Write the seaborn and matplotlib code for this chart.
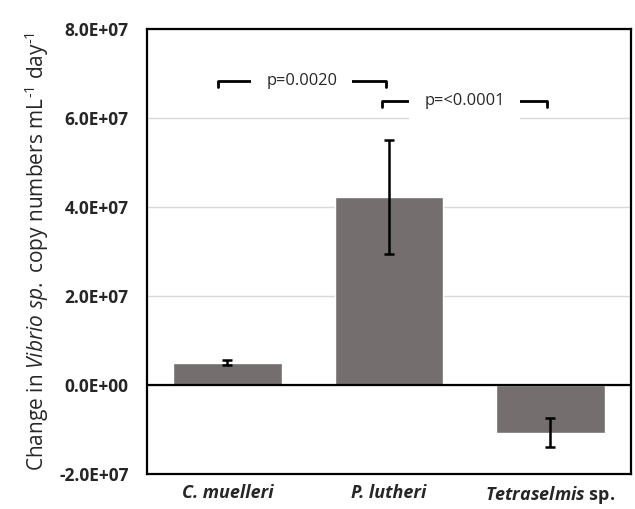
#!/usr/bin/env python3
# Change in Vibrio sp. copy numbers per microalgae culture

import matplotlib
matplotlib.use('Agg')
import matplotlib.pyplot as plt
import seaborn as sns

species = ['C. muelleri', 'P. lutheri', 'Tetraselmis sp.']
tick_labels = ['C. muelleri', 'P. lutheri', r'$\mathbfit{Tetraselmis}$ sp.']
change = [5.0e6, 4.22e7, -1.07e7]
change_err = [0.6e6, 1.28e7, 0.33e7]

# comparisons: (x start, x end, height, label)
comparisons = [(-0.06, 0.98, 6.84e7, 'p=0.0020'),
               (0.96, 1.98, 6.39e7, 'p=<0.0001')]

sns.set_theme(style='white')
plt.rcParams['font.family'] = ['Open Sans', 'DejaVu Sans']
plt.rcParams['mathtext.fontset'] = 'custom'
plt.rcParams['mathtext.rm'] = 'Open Sans'
plt.rcParams['mathtext.it'] = 'Open Sans:italic'
plt.rcParams['mathtext.bf'] = 'Open Sans:bold'
plt.rcParams['mathtext.bfit'] = 'Open Sans:italic:bold'

fig = plt.figure(figsize=(6.35, 5.09), dpi=100)
ax = fig.add_axes([0.231, 0.069, 0.763, 0.874])

sns.barplot(x=species, y=change, color='#746e6e', saturation=1,
            width=0.67, errorbar=None, ax=ax, zorder=2)
ax.errorbar(range(len(species)), change, yerr=change_err, fmt='none',
            ecolor='black', elinewidth=1.8, capsize=3.5, capthick=1.8, zorder=3)

ax.axhline(0, color='black', linewidth=1.6, zorder=4)
ax.set_ylim(-2e7, 8e7)
ax.set_xlim(-0.5, 2.5)
ax.set_yticks([-2e7, 0, 2e7, 4e7, 6e7, 8e7])
ax.set_yticklabels(['-2.0E+07', '0.0E+00', '2.0E+07', '4.0E+07',
                    '6.0E+07', '8.0E+07'], fontweight='bold', fontsize=12.5)
ax.set_xticks(range(len(species)))
ax.set_xticklabels(tick_labels, fontweight='bold', fontsize=13)
for lab in ax.get_xticklabels()[:2]:
    lab.set_fontstyle('italic')
ax.tick_params(axis='y', length=0, pad=13)
ax.tick_params(axis='x', length=0, pad=7)
ax.yaxis.grid(True, color='#d9d9d9', linewidth=1, zorder=0)
ax.set_axisbelow(True)
for s in ax.spines.values():
    s.set_color('black')
    s.set_linewidth(1.6)

ax.set_xlabel('')
ax.set_ylabel(r'Change in $\it{Vibrio\ sp.}$ copy numbers mL$^{\text{-1}}$ day$^{\text{-1}}$',
              fontsize=15, labelpad=6)

for x0, x1, h, label in comparisons:
    drop = 0.14e7
    ax.plot([x0, x0, x1, x1], [h - drop, h, h, h - drop], color='black',
            linewidth=2, zorder=5)
    ax.text((x0 + x1) / 2, h, label, ha='center', va='center', fontsize=11.8,
            zorder=6, bbox=dict(facecolor='white', edgecolor='none', pad=11))

fig.savefig('out.png', dpi=100)
